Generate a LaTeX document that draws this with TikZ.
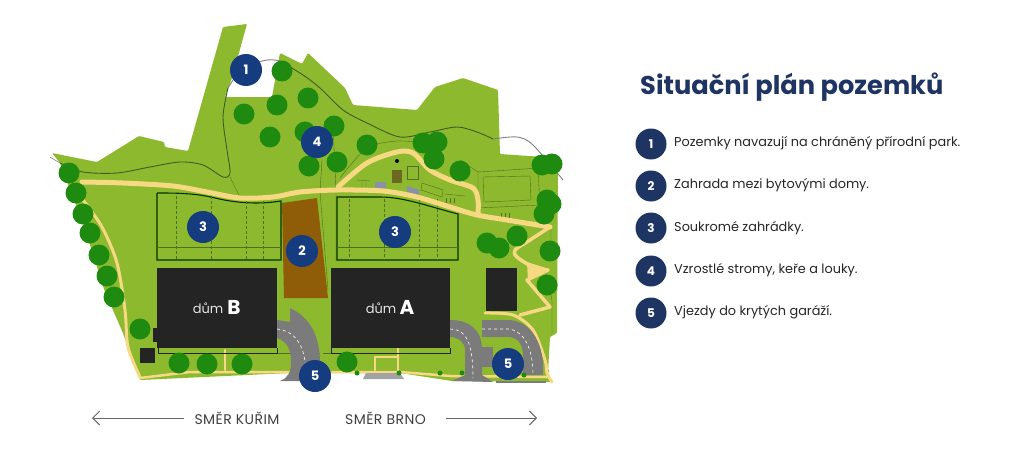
\documentclass[tikz,border=0pt]{standalone}
\usepackage{fontspec}
\setmainfont{Poppins}
\definecolor{lawn}{HTML}{8DB92F}
\definecolor{treegreen}{HTML}{1F8A10}
\definecolor{mapnavy}{HTML}{143C7E}
\definecolor{navy}{HTML}{1E3564}
\definecolor{soil}{HTML}{8F5C08}
\definecolor{house}{HTML}{242424}
\definecolor{sand}{HTML}{F8D983}
\definecolor{asphalt}{HTML}{7B7B7B}
\definecolor{trail}{HTML}{3F5C22}
\definecolor{slab}{HTML}{8A90A8}
\tikzset{
  treenode/.style={circle,fill=treegreen,minimum size=21pt,inner sep=0pt},
  budnode/.style={circle,fill=treegreen,minimum size=5pt,inner sep=0pt},
  mapnum/.style={circle,fill=mapnavy,text=white,minimum size=32pt,inner sep=0pt,font=\bfseries\fontsize{13}{13}\selectfont},
  legnum/.style={circle,fill=navy,text=white,minimum size=31pt,inner sep=0pt,font=\bfseries\fontsize{12}{12}\selectfont},
  legtext/.style={anchor=west,inner sep=0pt,text=black!85,font=\fontsize{12.85}{14}\selectfont},
  dirtext/.style={inner xsep=10pt,inner ysep=0pt,text=black!75,font=\fontsize{14}{14}\selectfont\addfontfeatures{LetterSpace=3}},
  dirarrow/.style={draw=black!60,line width=0.9pt,-{Straight Barb[length=7pt,width=14pt]}},
  housenode/.style={fill=house,inner sep=0pt,text=white},
  sandline/.style={draw=sand,line width=5pt,line cap=round,line join=round},
  thinline/.style={draw=trail!80!lawn,line width=0.4pt},
  plotline/.style={draw=trail!80!lawn,line width=0.35pt,densely dashed},
  gardenedge/.style={draw=black!80!green,line width=1.1pt},
}
\usetikzlibrary{arrows.meta}
\begin{document}
\begin{tikzpicture}[x=1pt,y=-1pt]
  \useasboundingbox (0,0) rectangle (1024,460);
  \fill[white] (0,0) rectangle (1024,460);
  % land
  \fill[lawn,rounded corners=1pt] (52,153) -- (97,162) -- (139,136) -- (164,142) -- (165,147)
    -- (188,151) -- (223,27) -- (247,24) -- (232,78) -- (225,97) -- (272,97) -- (280,53)
    -- (302,64) -- (308,53) -- (345,88) -- (353,105) -- (417,110) -- (435,87) -- (463,78)
    -- (498,90) -- (500,154) -- (558,158) -- (557,333) -- (550,337) -- (548,372) -- (552,382)
    -- (452,381) -- (400,373) -- (290,373) -- (140,380) -- (137,373) -- (123,333) -- (105,292)
    -- (83,223) -- (60,163) -- cycle;
  % trail
  \draw[trail,line width=0.9pt] plot[smooth] coordinates {(60,163) (83,172) (117,173) (150,167)
    (180,162) (203,165) (223,177) (230,173) (227,150) (223,117) (228,88)};
  \draw[black!50,line width=0.9pt] plot[smooth] coordinates {(228,88) (243,68) (267,60) (280,61)};
  \draw[trail,line width=0.9pt] plot[smooth] coordinates {(280,61) (303,75) (320,88) (343,110)
    (367,123) (400,137) (430,132) (457,127) (477,132) (493,139)};
  \draw[black!50,line width=0.9pt] plot[smooth] coordinates {(493,139) (517,137) (533,145) (563,180)};
  \draw[black!50,line width=0.6pt] (50,157) -- (60,163);
  % thin lines around the yard
  \draw[thinline] (230,177) -- (239,195);
  \draw[thinline] (322,160) -- (320,192) -- (328,290);
  \draw[thinline] (333,125) -- (336,190) -- (336,262);
  \draw[thinline] plot[smooth] coordinates {(340,178) (367,148) (397,141) (423,143)};
  \draw[thinline] (478,172) -- (540,168) (478,172) -- (478,205) (478,208) -- (540,205);
  \draw[thinline] (483,177) -- (530,176) -- (531,200) -- (484,202) -- cycle;
  \draw[thinline] (460,160) -- (478,172) (538,170) -- (540,205) (551,225) -- (551,258);
  \draw[thinline] (545,270) -- (552,300) -- (552,335);
  \draw[thinline] (278,353) -- (320,353) (323,353) -- (335,353);
  \draw[thinline] plot[smooth] coordinates {(518,330) (536,345) (549,372)};
  % yard details
  \draw[thinline] (407,166) rectangle (418,179);
  \draw[thinline] (422,183) -- (443,190) -- (442,197) -- (421,190) -- cycle;
  \fill[olive!70!black] (392,170) rectangle (402,183);
  \fill[black] (397,161) circle (2pt);
  \fill[slab] (375,182) rectangle (386,188);
  \fill[slab] (407,186) -- (419,190) -- (419,195) -- (407,192) -- cycle;
  \draw[thinline] (357,180) -- (370,181) (445,194) -- (465,196) (362,182) -- (362,188) (366,182) -- (366,188);
  \draw[thinline] (446,198) -- (446,203) (450,198) -- (450,203) (454,198) -- (454,203);
  \draw[thinline] (501,213) -- (501,219) (505,213) -- (505,219) (509,213) -- (509,219);
  % gardens
  \draw[gardenedge] (157,193) -- (157,260) -- (281,260) -- (281,201)
    .. controls (262,204) and (240,204) .. (215,198) .. controls (195,193) and (175,193) .. (157,193);
  \draw[gardenedge] (337,197) -- (337,260) -- (458,260) -- (458,214)
    .. controls (430,207) and (405,197) .. (380,197) -- cycle;
  \foreach \x in {176,211,246,263} \draw[plotline] (\x,196) -- (\x,260);
  \foreach \x in {349,384,419,437} \draw[plotline] (\x,199) -- (\x,260);
  \draw[thinline] (157,247) -- (281,247) (337,247) -- (458,247);
  % brown plot
  \fill[soil] (282,203) -- (317,198) -- (328,298) -- (284,298) -- cycle;
  % sand paths
  \draw[sandline] plot[smooth] coordinates {(82,182) (123,183) (173,186) (207,192) (240,198) (273,197)
    (300,192) (337,190) (383,191) (417,197) (450,207) (477,215) (507,220) (550,227)};
  \draw[sandline] plot[smooth] coordinates {(338,187) (367,163) (397,152) (413,153) (430,170)
    (450,180) (473,188) (478,200) (478,214)};
  \draw[sandline,line width=3.5pt] plot[smooth] coordinates {(550,227) (530,240) (515,250) (517,257)
    (533,267) (548,270)};
  \draw[sandline,line width=3.5pt] (548,270) -- (527,280) -- (550,307) -- (520,315);
  \fill[sand] (527,262) -- (546,268) -- (528,282) -- cycle;
  \draw[sandline,line width=3pt] plot[smooth] coordinates {(83,200) (102,227) (117,263) (125,310)
    (128,347) (140,377)};
  \draw[sandline,line width=2.5pt] (140,378) -- (190,372) -- (290,372);
  \draw[sandline,line width=2.5pt] (332,372) -- (400,372) -- (450,376) -- (547,377);
  \draw[sandline,line width=2.5pt] (225,350) -- (225,370);
  \draw[sandline,line width=2.5pt] (398,348) -- (398,372) (375,370) -- (375,357) -- (398,357);
  \draw[sandline,line width=3pt] plot[smooth] coordinates {(485,313) (513,315) (533,330) (545,360)
    (547,373) (552,382)};
  % roads
  \fill[asphalt] (277,320) -- (290,322) -- (290,308) .. controls (305,315) and (320,330) .. (320,363)
    -- (305,381) -- (280,381) .. controls (288,378) and (291,372) .. (291,363)
    .. controls (291,350) and (288,342) .. (277,338) -- cycle;
  \fill[asphalt] (450,320) .. controls (470,320) and (482,330) .. (482,350) -- (482,375) -- (493,382)
    -- (452,381) -- (465,375) -- (465,350) .. controls (465,342) and (458,337) .. (450,337) -- cycle;
  \fill[asphalt] (482,320) -- (510,320) .. controls (532,322) and (545,345) .. (543,375)
    -- (523,375) -- (523,355) .. controls (523,345) and (518,337) .. (508,337) -- (482,337) -- cycle;
  \fill[asphalt] (480,347) rectangle (493,367);
  \fill[asphalt] (496,381) rectangle (546,383);
  \fill[asphalt!70] (366,373) -- (400,373) -- (404,379) -- (363,379) -- cycle;
  \draw[white,line width=0.6pt,dashed] (277,329) .. controls (295,331) and (305,345) .. (306,372);
  \draw[white,line width=0.6pt,dashed] (450,329) .. controls (465,329) and (473,340) .. (473,378);
  \draw[white,line width=0.6pt,dashed] (482,329) -- (510,329) .. controls (525,332) and (533,350) .. (533,375);
  % houses
  \node[housenode,minimum width=120pt,minimum height=80pt] (domB) at (217,308) {};
  \node[housenode,minimum width=119pt,minimum height=80pt] (domA) at (390.5,308) {};
  \node[housenode,minimum width=31pt,minimum height=43pt] (garaz) at (501.5,289.5) {};
  \node[housenode,minimum width=15pt,minimum height=15pt] (kolna) at (147.5,355.5) {};
  \fill[house] (153,328) rectangle (157,342);
  \node[text=white!90!black,inner sep=0pt,font=\fontsize{13}{13}\selectfont] (domBa) at (208,308) {dům};
  \node[text=white,inner sep=0pt,font=\bfseries\fontsize{20}{20}\selectfont] (domBb) at (234,307.5) {B};
  \node[text=white!90!black,inner sep=0pt,font=\fontsize{13}{13}\selectfont] (domAa) at (381,308) {dům};
  \node[text=white,inner sep=0pt,font=\bfseries\fontsize{20}{20}\selectfont] (domAb) at (407,307.5) {A};
  \draw[house,line width=0.8pt] (158,348) -- (158,353) -- (277,353) -- (277,348);
  \draw[house,line width=0.8pt] (331,348) -- (331,353) -- (450,353) -- (450,348);
  % trees
  \path
    (282,71) node[treenode] (t1){}
    (308,98) node[treenode] (t2){}
    (277,105) node[treenode] (t3){}
    (244,114) node[treenode] (t4){}
    (270,137) node[treenode] (t5){}
    (305,132) node[treenode] (t6){}
    (309,166) node[treenode] (t7){}
    (334,126) node[treenode] (t8){}
    (337,162) node[treenode] (t9){}
    (367,145) node[treenode] (t10){}
    (423,143) node[treenode] (t11){}
    (434,159) node[treenode] (t12){}
    (437,142) node[treenode] (t13){}
    (460,171) node[treenode] (t14){}
    (552,164) node[treenode] (t15){}
    (542,165) node[treenode] (t16){}
    (544,214) node[treenode] (t17){}
    (547,200) node[treenode] (t18){}
    (551,204) node[treenode] (t19){}
    (487,243) node[treenode] (t20){}
    (499,248) node[treenode] (t21){}
    (517,236) node[treenode] (t22){}
    (550,251) node[treenode] (t23){}
    (547,285) node[treenode] (t24){}
    (69,173) node[treenode] (t25){}
    (76,193) node[treenode] (t26){}
    (83,214) node[treenode] (t27){}
    (90,233) node[treenode] (t28){}
    (99,255) node[treenode] (t29){}
    (107,276) node[treenode] (t30){}
    (114,297) node[treenode] (t31){}
    (140,329) node[treenode] (t32){}
    (179,363) node[treenode] (t33){}
    (207,364) node[treenode] (t34){}
    (242,364) node[treenode] (t35){}
    (347,362) node[treenode] (t36){}
    (357,373) node[budnode] (b1){}
    (399,373) node[budnode] (b2){}
    (440,373) node[budnode] (b3){}
    (462,373) node[budnode] (b4){}
    (524,375) node[budnode] (b5){};
  % numbers on the map
  \node[mapnum] (m1) at (246,70) {1};
  \node[mapnum] (m2) at (302,251) {2};
  \node[mapnum] (m3a) at (203,227) {3};
  \node[mapnum] (m3b) at (395,232) {3};
  \node[mapnum] (m4) at (317,142) {4};
  \node[mapnum] (m5a) at (315,376) {5};
  \node[mapnum] (m5b) at (508,364) {5};
  % directions
  \node[dirtext] (kurim) at (237,418) {SMĚR KUŘIM};
  \node[dirtext,inner xsep=20pt] (brno) at (385.5,418) {SMĚR BRNO};
  \coordinate (kurimtip) at (92,418);
  \coordinate (brnotip) at (537,418);
  \draw[dirarrow] (kurim) -- (kurimtip);
  \draw[dirarrow] (brno) -- (brnotip);
  % legend
  \node[anchor=west,inner sep=0pt,text=navy,font=\bfseries\fontsize{25.7}{26}\selectfont] (title) at (640,87) {Situační plán pozemků};
  \node[legnum] (l1) at (651,144) {1};
  \node[legnum] (l2) at (651,186) {2};
  \node[legnum] (l3) at (651,228) {3};
  \node[legnum] (l4) at (651,271) {4};
  \node[legnum] (l5) at (651,313) {5};
  \node[legtext] (lt1) at (674,143) {Pozemky navazují na chráněný přírodní park.};
  \node[legtext] (lt2) at (674,185) {Zahrada mezi bytovými domy.};
  \node[legtext] (lt3) at (674,228) {Soukromé zahrádky.};
  \node[legtext] (lt4) at (674,270) {Vzrostlé stromy, keře a louky.};
  \node[legtext] (lt5) at (674,312) {Vjezdy do krytých garáží.};
\end{tikzpicture}
\end{document}
